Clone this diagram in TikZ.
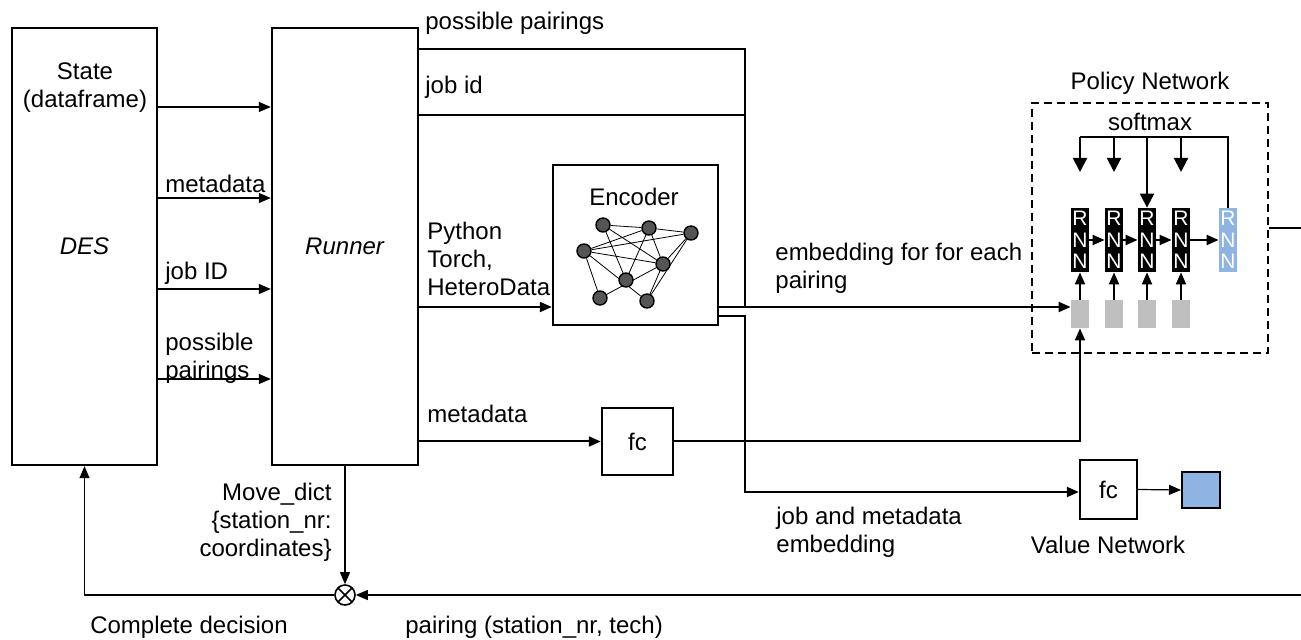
\documentclass[tikz,border=0pt]{standalone}
\usepackage{fontspec}
\setmainfont{Liberation Sans}
\usetikzlibrary{arrows.meta,backgrounds}
\definecolor{rnnblue}{RGB}{142, 180, 227}
\definecolor{cellgrey}{RGB}{191, 191, 191}
\definecolor{nodegrey}{RGB}{85, 85, 85}
\tikzstyle{block} = [draw, line width=1.2pt, inner sep=0pt, align=center]
\tikzstyle{txt} = [inner sep=0pt, anchor=west, align=left]
\tikzstyle{conn} = [line width=1pt]
\tikzstyle{arr} = [line width=1pt, -{Triangle[length=6pt,width=5pt]}]
\tikzstyle{thinarr} = [line width=0.6pt, -{Triangle[length=6pt,width=5pt]}]
\tikzstyle{softarr} = [line width=1pt, -{Triangle[length=7pt,width=7pt]}]
\tikzstyle{rnn} = [
  fill=black,
  text=white,
  minimum width=9pt,
  minimum height=32pt,
  inner sep=0pt,
  align=center,
  font=\fontsize{10.5}{10.8}\selectfont,
]
\tikzstyle{cell} = [fill=cellgrey, minimum width=9pt, minimum height=14pt, inner sep=0pt]
\tikzstyle{gnode} = [circle, draw, fill=nodegrey, line width=0.7pt, inner sep=0pt, minimum size=7pt]

\begin{document}
\begin{tikzpicture}[x=0.5pt, y=-0.5pt, font=\fontsize{12}{14}\selectfont]
            \useasboundingbox (0,0) rectangle (1301,640);

            % Simulator and runner
            \node[block, minimum width=72.5pt, minimum height=218.5pt] (des) at (84.5,246.5) {\textit{DES}};
            \node[block, minimum width=73pt, minimum height=218.5pt] (runner) at (345,246.5) {\textit{Runner}};
            \node[align=center, inner sep=0pt] (state) at (85,88) {State\\(dataframe)};

            \foreach \y in {107,198,289,379}
                \draw[thinarr] (des.east |- 0,\y) -- (runner.west |- 0,\y);

            \node[txt] (meta1) at (165,184) {metadata};
            \node[txt] (jobid1) at (165,273) {job ID};
            \node[txt] (pairs1) at (165,358) {possible\\pairings};

            % Encoder
            \node[block, minimum width=82.5pt, minimum height=80pt] (enc) at (635.5,245) {};
            \node (enctxt) at (634,197) {Encoder};
            \foreach \n/\x/\y in {1/603/225, 2/649/228, 3/691/233, 4/584/251,
                                  5/663/264, 6/626/280, 7/600/298, 8/647/301}
                \node[gnode] (g\n) at (\x,\y) {};
            \begin{scope}[on background layer, line width=0.6pt]
                \foreach \a/\b in {1/2, 2/3, 1/6, 1/5, 4/2, 4/3, 4/5, 4/7,
                                   4/8, 2/6, 2/5, 3/5, 3/8, 7/5, 5/8}
                    \draw (g\a) -- (g\b);
            \end{scope}

            % Runner outputs
            \node[txt] (pairs2) at (425,23) {possible pairings};
            \node[txt] (jobid2) at (425,87) {job id};
            \node[txt] (pytxt) at (427,259) {Python\\Torch,\\HeteroData};
            \node[txt] (meta2) at (427,414) {metadata};
            \node[block, minimum width=35.5pt, minimum height=33.5pt] (fcm) at (637.5,441.5) {fc};

            \coordinate (join) at (745,307);
            \coordinate (drop) at (745,492);
            \draw[conn] (runner.east |- 0,49) -| (join);
            \draw[conn] (runner.east |- 0,115) -- (join |- 0,115);
            \draw[arr] (runner.east |- 0,307) -- (enc.west |- 0,307);
            \draw[arr] (runner.east |- fcm.west) -- (fcm.west);

            % Policy network
            \node[draw, dashed, dash pattern=on 4pt off 2.5pt, line width=1pt,
                  minimum width=118pt, minimum height=125pt] (policy) at (1150,228) {};
            \node (poltxt) at (1150,83) {Policy Network};
            \node (softtxt) at (1150,122) {softmax};

            \foreach \i/\x in {1/1080, 2/1114, 3/1147, 4/1181} {
                \node[rnn] (r\i) at (\x,240) {R\\N\\N};
                \node[cell] (c\i) at (\x,314) {};
                \draw[arr] (c\i) -- (r\i);
            }
            \node[rnn, fill=rnnblue] (r5) at (1228,240) {R\\N\\N};
            \foreach \i/\j in {1/2, 2/3, 3/4, 4/5}
                \draw[arr] (r\i) -- (r\j);

            % Softmax feedback
            \draw[line width=1.4pt] (r5.north) |- (r1.north |- 0,137);
            \foreach \i in {1,2,4}
                \draw[softarr] (r\i |- 0,137) -- (r\i |- 0,172);
            \draw[softarr] (r3 |- 0,137) -- (r3.north);

            \coordinate (outR) at (1301,228);
            \draw[line width=0.6pt] (policy.east |- outR) -- (outR);

            % Embeddings
            \draw[arr] (enc.east |- join) -- (c1.west |- join);
            \draw[arr] (fcm.east) -| (c1.south);
            \node[txt] (embtxt) at (775,268.5) {embedding for for each\\pairing};

            % Value network
            \node[block, minimum width=28.5pt, minimum height=29.5pt] (fcv) at (1108.5,489.5) {fc};
            \node[draw, line width=1pt, fill=rnnblue, minimum width=19pt, minimum height=18pt] (vout) at (1201,490) {};
            \draw[arr] (enc.east |- 0,316) -| (drop) -- (fcv.west |- drop);
            \draw[thinarr] (fcv.east) -- (vout.west);
            \node (valtxt) at (1108,545) {Value Network};
            \node[txt] (jmtxt) at (776,532.5) {job and metadata\\embedding};

            % Combine and return the decision
            \node[circle, draw, line width=0.8pt, minimum size=10pt, inner sep=0pt,
                  path picture={
                    \draw[line width=0.8pt] (path picture bounding box.north west) -- (path picture bounding box.south east);
                    \draw[line width=0.8pt] (path picture bounding box.north east) -- (path picture bounding box.south west);
                  }] (mix) at (345,595) {};
            \draw[thinarr] (runner.south) -- (mix.north);
            \node[txt, anchor=east, align=right] (movetxt) at (332,522) {Move\_dict\\\{station\_nr:\\coordinates\}};

            \coordinate (inR) at (1301,595);
            \draw[thinarr] (inR) -- (mix.east);
            \draw[thinarr] (mix.west) -| (des.south);

            % Labels
            \node (cdtxt) at (189,627) {Complete decision};
            \node[txt] (pairtxt) at (405,627) {pairing (station\_nr, tech)};
          \end{tikzpicture}
\end{document}
